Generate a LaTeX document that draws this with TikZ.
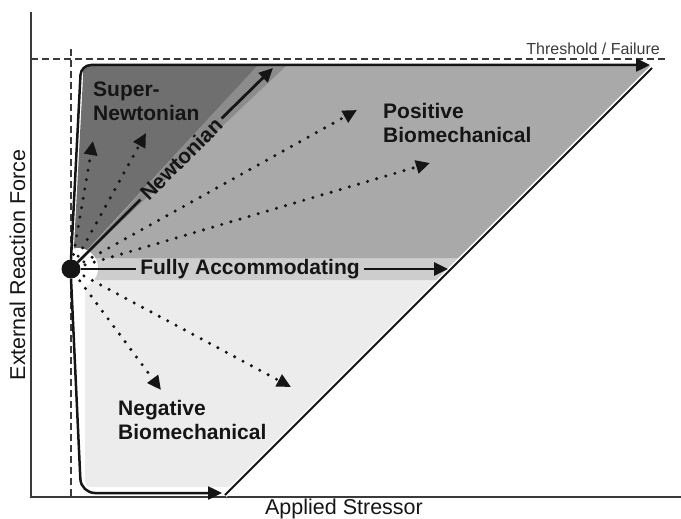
\documentclass[tikz,border=0pt]{standalone}
\usepackage{fontspec}
\setmainfont{Liberation Sans}
\usetikzlibrary{arrows.meta}
\definecolor{ink}{HTML}{151515}
\definecolor{axisc}{HTML}{3A3A3A}
\definecolor{darkreg}{HTML}{6F6F6F}
\definecolor{bandreg}{HTML}{8C8C8C}
\definecolor{medreg}{HTML}{A9A9A9}
\definecolor{fullreg}{HTML}{CDCDCD}
\definecolor{lightreg}{HTML}{ECECEC}
\begin{document}
\begin{tikzpicture}[x=1pt,y=-1pt,
  lbl/.style={font=\fontsize{21}{24}\selectfont\bfseries, text=ink, inner sep=0pt, align=left},
  axlbl/.style={font=\fontsize{21.5}{24}\selectfont, text=ink, inner sep=0pt},
  inlbl/.style={font=\fontsize{21}{24}\selectfont\bfseries, text=ink, inner sep=4pt},
  tipa/.style={-{Triangle[length=14pt,width=13pt]}},
  solidline/.style={draw=ink, line width=2.8pt},
  curveline/.style={draw=ink, line width=2.5pt},
  dotarrow/.style={draw=ink, line width=3.4pt, line cap=round, dash pattern=on 0pt off 9.5pt, shorten <=5pt, -{Triangle[length=14pt,width=13pt]}},
  threshold/.style={draw=axisc, line width=1.2pt, dash pattern=on 7pt off 4pt},
  axisline/.style={draw=axisc, line width=2pt}]
\useasboundingbox (0,0) rectangle (681,519);

% shaded regions
\fill[lightreg] (85,280) -- (85,475) .. controls (85,487) .. (97,487) -- (230,487) -- (437,280) -- cycle;
\fill[fullreg] (78,258) -- (459,258) -- (437,280) -- (78,280) -- cycle;
\fill[medreg] (83,258) -- (83,78) .. controls (83,66) .. (95,66) -- (651,66) -- (459,258) -- cycle;
\fill[bandreg] (71,269) -- (257,66) -- (286,66) -- cycle;
\fill[darkreg] (73,265) -- (83,78) .. controls (83,66) .. (95,66) -- (257,66) -- cycle;
\fill[white] (78,268) circle (20pt);

% axes and threshold guides
\coordinate (ytop) at (31,12);
\coordinate (orig) at (31,497);
\coordinate (xend) at (681,497);
\draw[axisline] (ytop) -- (orig) -- (xend);
\coordinate (th1) at (31,59);
\coordinate (th2) at (667,59);
\draw[threshold] (th1) -- (th2);
\coordinate (vd1) at (71,49);
\coordinate (vd2) at (71,497);
\draw[threshold] (vd1) -- (vd2);

% diagonal limit line
\coordinate (D1) at (225,495);
\coordinate (D2) at (652,68);
\draw[white, line width=5pt] (D1) -- (D2);
\draw[ink, line width=1.9pt] (D1) -- (D2);

% origin
\node[circle, fill=ink, minimum size=19pt, inner sep=0pt] (O) at (71,269) {};

% boundary curves
\coordinate (T) at (650,65);
\coordinate (B) at (222,493);
\draw[curveline, tipa, rounded corners=10pt] (O.north) -- (81,65) -- (T);
\draw[curveline, tipa, rounded corners=14pt] (O.south) -- (81,493) -- (B);

% Newtonian arrow
\node[inlbl, rotate=45] (newt) at (181,159) {Newtonian};
\coordinate (NT) at (273,68);
\draw[solidline] (O) -- (newt.west);
\draw[solidline, tipa] (newt.east) -- (NT);

% Fully accommodating arrow
\node[inlbl] (fa) at (250,269) {Fully Accommodating};
\coordinate (FT) at (448,269);
\draw[solidline] (O) -- (fa.west);
\draw[solidline, tipa] (fa.east) -- (FT);

% dotted arrows
\coordinate (d1) at (93,141);
\coordinate (d2) at (146,133);
\coordinate (d3) at (357,110);
\coordinate (d4) at (430,163);
\coordinate (d5) at (161,390);
\coordinate (d6) at (291,387);
\foreach \t in {d1,d2,d3,d4,d5,d6} \draw[dotarrow] (O) -- (\t);

% labels
\node[lbl, anchor=north west] (sn) at (93,82) {Super-\\Newtonian};
\node[lbl, anchor=north west] (pb) at (383,103) {Positive\\Biomechanical};
\node[lbl, anchor=north west] (nb) at (118,400) {Negative\\Biomechanical};
\node[font=\fontsize{16}{18}\selectfont, text=axisc, inner sep=0pt, anchor=base east] (thr) at (660,55) {Threshold / Failure};
\node[axlbl, anchor=base] (xl) at (344,514) {Applied Stressor};
\node[axlbl, rotate=90, anchor=base] (yl) at (25,265) {External Reaction Force};
\end{tikzpicture}
\end{document}
